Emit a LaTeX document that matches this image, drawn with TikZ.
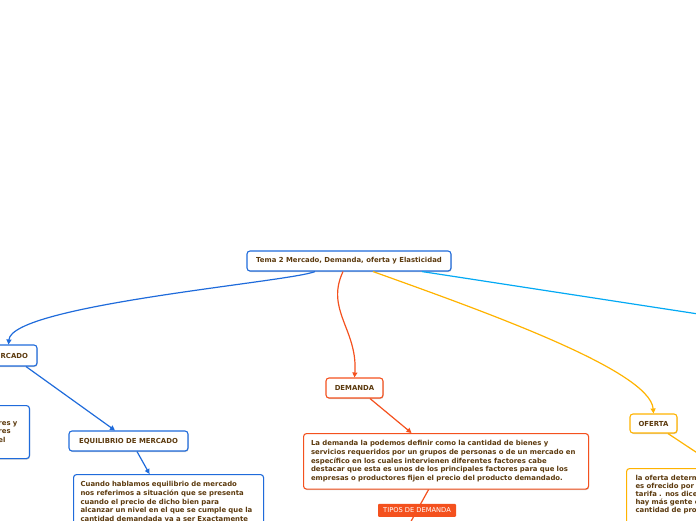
\documentclass[tikz,border=0pt]{standalone}
\usepackage{fontspec}
\setmainfont{DejaVu Sans}
\usetikzlibrary{arrows.meta,shadows,calc}
\definecolor{cblue}{HTML}{1F6BDB}
\definecolor{corange}{HTML}{F4511E}
\definecolor{cyellow}{HTML}{FFB300}
\definecolor{clight}{HTML}{03A9F4}
\definecolor{tbrown}{HTML}{5C3A0E}
\tikzset{
  box/.style={draw, rounded corners=3pt, line width=1.1pt, fill=white,
    font=\fontsize{6.9}{8.7}\selectfont\bfseries, text=tbrown,
    inner xsep=8pt, inner ysep=7pt,
    drop shadow={shadow xshift=0.6pt, shadow yshift=-1pt, opacity=0.2, fill=black}},
  lbl/.style={box, minimum height=20pt, inner ysep=0pt},
  para/.style={box, align=left},
  conn/.style={line width=1.2pt, -{Triangle[length=5pt,width=5pt]}},
  plain/.style={line width=1.2pt},
  tipos/.style={fill=corange, text=white, font=\fontsize{6.7}{8}\selectfont,
    inner xsep=4pt, inner ysep=2pt, minimum width=78pt, minimum height=13pt,
    rounded corners=1pt}
}
\begin{document}
\begin{tikzpicture}[x=1pt,y=-1pt]
\useasboundingbox (0,0) rectangle (696,520);
\clip (0,0) rectangle (696,520);

% nodes
\node[lbl, draw=cblue, minimum width=204pt] (root) at (349,261)
  {Tema 2 Mercado, Demanda, oferta y Elasticidad};
\node[lbl, draw=cblue, minimum width=57pt, minimum height=21pt] (merc) at (8.5,355.5) {MERCADO};
\node[para, draw=cblue, text width=23pt, minimum height=53pt, anchor=north east] (lbox) at (30,405)
  {res y\\res\\el};
\node[lbl, draw=cblue, minimum width=119pt] (equi) at (128.5,441) {EQUILIBRIO DE MERCADO};
\node[para, draw=cblue, anchor=north west, text width=176pt, inner xsep=7pt] (eqtext) at (73,474)
  {Cuando hablamos equilibrio de mercado\\nos referimos a situación que se presenta\\cuando el precio de dicho bien para\\alcanzar un nivel en el que se cumple que la\\cantidad demandada va a ser Exactamente\\\mbox{}};
\node[lbl, draw=corange, minimum width=57pt] (dem) at (354.5,388) {DEMANDA};
\node[para, draw=corange, anchor=north west, text width=270pt, inner xsep=7.5pt] (dtext) at (303,433)
  {La demanda la podemos definir como la cantidad de bienes y\\servicios requeridos por un grupos de personas o de un mercado en\\específico en los cuales intervienen diferentes factores cabe\\destacar que esta es unos de los principales factores  para que los\\empresas o productores fijen el precio del producto demandado.};
\node[lbl, draw=cyellow, minimum width=47pt, minimum height=19pt] (ofe) at (653.5,423.5) {OFERTA};
\node[para, draw=cyellow, anchor=north west, text width=170pt, inner xsep=9pt,
  font=\fontsize{6.9}{7.8}\selectfont\bfseries] (oftext) at (626,468)
  {la oferta determ\\es ofrecido por\\tarifa . nos dice\\hay más gente c\\cantidad de pro\\\mbox{}\\\mbox{}};
\coordinate (elas) at (900,345);
\coordinate (dchild) at (399,543);

% connectors
\draw[conn, cblue] ($(root.south)+(-34,0)$) .. controls (290,282) and (12,305) .. (merc.north);
\draw[conn, cblue] ($(merc.south)+(17.5,0)$) -- ($(equi.north)+(-13.5,0)$);
\draw[conn, cblue] ($(equi.south)+(8.5,0)$) -- ($(eqtext.north)+(-19,0)$);
\draw[conn, corange] ($(root.south)+(-6,0)$) .. controls (325,310) and (358,330) .. (dem.north);
\draw[conn, corange] ($(dem.south)+(15.5,0)$) -- ($(dtext.north)+(-34.5,0)$);
\draw[plain, corange] ($(dtext.south)+(-17.5,0)$) -- node[tipos, pos=0.39] {TIPOS DE DEMANDA} (dchild);
\draw[conn, cyellow] ($(root.south)+(24,0)$) .. controls (480,310) and (650,370) .. (ofe.north);
\draw[conn, cyellow] ($(ofe.south)+(14.5,0)$) -- ($(oftext.north west)+(94,0)$);
\draw[plain, clight] ($(root.south)+(73,0)$) -- (elas);
\end{tikzpicture}
\end{document}
